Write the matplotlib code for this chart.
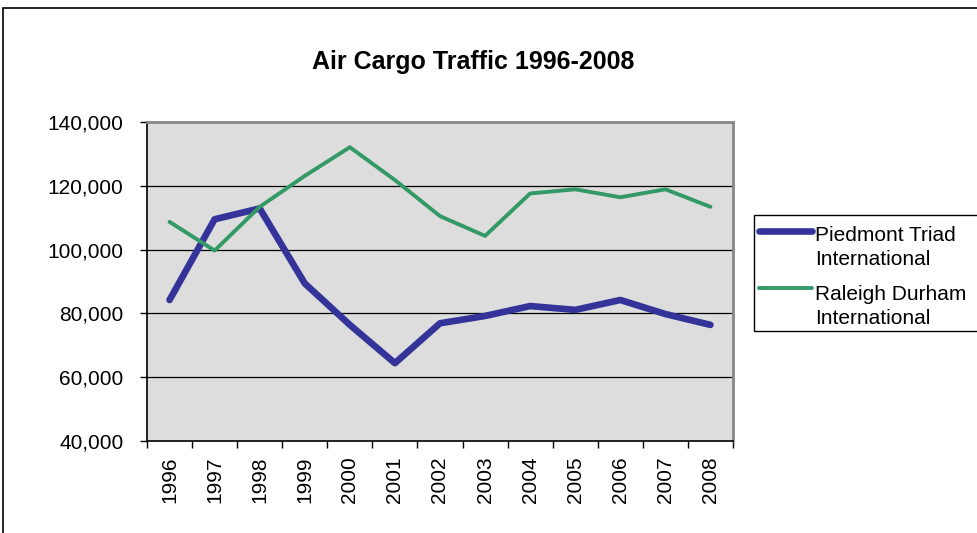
import matplotlib
matplotlib.use('Agg')
import matplotlib.pyplot as plt
from matplotlib.patches import Rectangle
from matplotlib.lines import Line2D

plt.rcParams['font.family'] = ['Liberation Sans', 'DejaVu Sans']

# data
years = ['1996', '1997', '1998', '1999', '2000', '2001', '2002',
         '2003', '2004', '2005', '2006', '2007', '2008']
piedmont = [84200, 109500, 112900, 89400, 76400, 64400, 76900,
            79200, 82300, 81100, 84200, 79800, 76400]
raleigh = [108700, 99700, 113400, 123100, 132100, 121800, 110500,
           104300, 117600, 118900, 116400, 118900, 113400]
yticks = [40000, 60000, 80000, 100000, 120000, 140000]

W, H = 977, 533
fig = plt.figure(figsize=(W / 100, H / 100), dpi=100)
ax = fig.add_axes([147 / W, 1 - 441 / H, (733 - 147) / W, (441 - 122) / H])
ax.set_facecolor('#dddddd')

x = list(range(len(years)))
l1, = ax.plot(x, piedmont, color='#333399', lw=4.8, solid_capstyle='round',
              solid_joinstyle='round', label='Piedmont Triad\nInternational', zorder=3)
l2, = ax.plot(x, raleigh, color='#339966', lw=2.8, solid_capstyle='round',
              solid_joinstyle='round', label='Raleigh Durham\nInternational', zorder=3)

ax.set_xlim(-0.5, len(years) - 0.5)
ax.set_ylim(40000, 140000)
ax.set_yticks(yticks)
ax.set_yticklabels(['{:,}'.format(v) for v in yticks], fontsize=15)
for v in yticks[1:-1]:
    ax.axhline(v, color='black', lw=0.9, zorder=1)

# category ticks between years, labels centered
ax.set_xticks([i - 0.5 for i in range(len(years) + 1)])
ax.set_xticklabels([])
ax.set_xticks(x, minor=True)
ax.set_xticklabels(years, minor=True, rotation=90, fontsize=15)
ax.tick_params(axis='x', which='major', length=5, width=1, direction='out')
ax.tick_params(axis='x', which='minor', length=0, pad=11)
ax.tick_params(axis='y', length=5, width=1, direction='out', pad=12)

for s in ['left', 'bottom']:
    ax.spines[s].set_color('black')
    ax.spines[s].set_linewidth(1.2)
for s in ['top', 'right']:
    ax.spines[s].set_color('#888888')
    ax.spines[s].set_linewidth(2)

fig.text(473 / W, 1 - 62 / H, 'Air Cargo Traffic 1996-2008', ha='center',
         va='center', fontsize=18, fontweight='bold')

# legend box, Excel style: handle beside the first line of each label
fig.patches.append(Rectangle((754 / W, 1 - 331 / H), 0.5, (331 - 215) / H,
                             transform=fig.transFigure, fill=False,
                             edgecolor='black', lw=1.0, clip_on=False))
for line, hy, ty in [(l1, 231, 265), (l2, 288, 324)]:
    fig.add_artist(Line2D([759 / W, 812 / W], [1 - hy / H, 1 - hy / H],
                          color=line.get_color(), lw=line.get_linewidth(),
                          solid_capstyle='round', transform=fig.transFigure))
    fig.text(815 / W, 1 - ty / H, line.get_label(), ha='left', va='baseline',
             fontsize=15, linespacing=1.36,
             transform=fig.transFigure)

# outer chart frame
fig.patches.append(Rectangle((3 / W, -0.2), 1.5, 1.2 - 8 / H,
                             transform=fig.transFigure, fill=False,
                             edgecolor='black', lw=1.2))

fig.savefig('out.png', dpi=100)
